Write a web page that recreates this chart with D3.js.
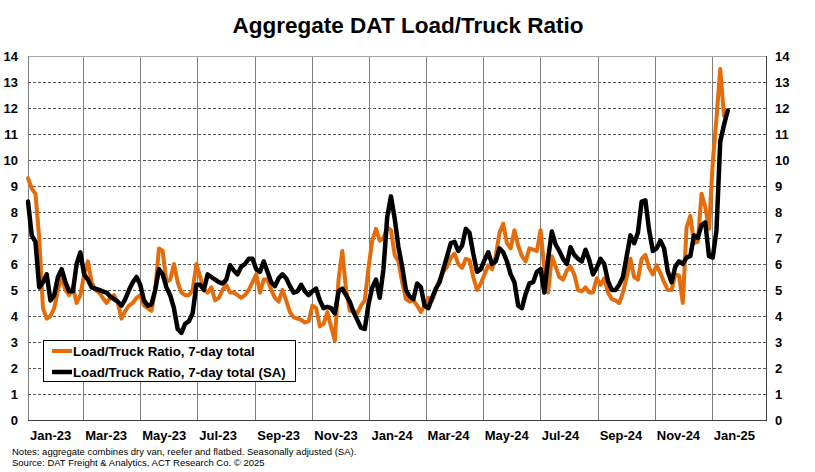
<!DOCTYPE html>
<html>
<head>
<meta charset="utf-8">
<script src="https://cdn.jsdelivr.net/npm/d3@7"></script>
<style>
  html, body { margin: 0; padding: 0; background: #fff; }
  svg { display: block; font-family: "Liberation Sans", Arial, sans-serif; }
</style>
</head>
<body>
<svg id="chart" width="815" height="472"></svg>
<script>
// ---------------- DATA ----------------
const title = "Aggregate DAT Load/Truck Ratio";
const startDate = "2023-01-01";   // first observation
const stepDays = 4;               // observations are every 4 days
const xTickDates = ["2023-01-01","2023-03-01","2023-05-01","2023-07-01","2023-09-01","2023-11-01",
                    "2024-01-01","2024-03-01","2024-05-01","2024-07-01","2024-09-01","2024-11-01","2025-01-01"];
const xTickLabels = ["Jan-23","Mar-23","May-23","Jul-23","Sep-23","Nov-23",
                     "Jan-24","Mar-24","May-24","Jul-24","Sep-24","Nov-24","Jan-25"];
const yTicks = [0,1,2,3,4,5,6,7,8,9,10,11,12,13,14];
const seriesNames = ["Load/Truck Ratio, 7-day total", "Load/Truck Ratio, 7-day total (SA)"];

// Load/Truck Ratio, 7-day total
const ratio = [
  9.3, 8.9, 8.7, 7.0, 4.3, 3.9, 4.0, 4.3, 5.0, 5.5, 5.0, 4.8, 5.1, 4.5, 4.8, 5.6, 6.1, 5.3, 5.0, 4.9,
  4.7, 4.5, 4.7, 4.8, 4.5, 3.9, 4.2, 4.4, 4.5, 4.7, 4.8, 4.4, 4.3, 4.2, 5.0, 6.6, 6.5, 5.3, 5.4, 6.0,
  5.3, 4.9, 4.8, 4.8, 5.0, 6.0, 5.5, 5.0, 4.9, 5.1, 4.6, 4.7, 5.0, 5.2, 4.9, 4.9, 4.8, 4.7, 4.8, 5.0,
  5.3, 5.6, 4.9, 5.4, 5.4, 5.0, 4.7,
  4.55, 5.0, 4.6, 4.15, 3.95, 3.9, 3.85, 3.75, 3.8, 4.4, 4.3, 3.6, 3.7, 4.15, 3.6, 3.05, 5.4, 6.5, 5.0, 4.2,
  4.2, 4.1, 4.4, 4.6, 5.85, 6.9, 7.35, 6.9, 7.0, 7.4, 7.3, 6.35, 6.1, 5.3, 4.65, 4.55, 4.6, 4.4, 4.15, 4.4,
  4.7, 4.6, 5.0, 5.4, 5.7, 5.9, 6.25, 6.4, 6.0, 5.85, 6.2, 6.15, 5.5, 5.0, 5.25, 5.6, 5.95, 5.8, 6.3, 7.2,
  7.55, 6.8, 6.6, 7.3, 6.7,
  6.3, 6.1, 6.6, 6.55, 6.5, 7.3, 5.8, 4.9, 6.3, 5.9, 5.5, 5.4, 5.75, 5.9, 5.6, 5.0, 4.95, 5.1, 4.9, 4.9,
  5.45, 5.2, 5.45, 4.9, 4.65, 4.6, 4.5, 4.9, 5.5, 6.2, 5.5, 5.4, 6.2, 6.35, 5.85, 5.6, 5.95, 5.65, 5.3, 5.0,
  5.0, 5.6, 5.55, 4.5, 7.4, 7.85, 6.8, 6.85, 8.7, 8.2, 7.35, 9.9, 11.6, 13.5, 11.7
];

// Load/Truck Ratio, 7-day total (SA)
const ratioSA = [
  8.4, 7.1, 6.85, 5.1, 5.3, 5.6, 4.6, 4.8, 5.5, 5.8, 5.3, 4.95, 4.95, 6.0, 6.45, 5.6, 5.4, 5.1, 5.05, 5.0,
  4.95, 4.9, 4.75, 4.65, 4.55, 4.4, 4.65, 5.0, 5.3, 5.5, 5.2, 4.6, 4.4, 4.45, 5.0, 5.8, 5.6, 5.1, 4.8, 4.3,
  3.5, 3.35, 3.7, 3.8, 4.1, 5.2, 5.2, 5.0, 5.6, 5.5, 5.4, 5.3, 5.25, 5.4, 5.95, 5.75, 5.6, 5.9, 6.0, 6.2,
  6.2, 5.8, 5.7, 6.1, 5.7, 5.3, 5.15,
  5.45, 5.6, 5.45, 5.15, 4.9, 4.95, 5.2, 4.95, 4.8, 4.95, 5.05, 4.6, 4.3, 4.35, 4.3, 4.1, 4.95, 5.05, 4.8, 4.55,
  4.15, 3.85, 3.55, 3.5, 4.45, 5.1, 5.4, 4.7, 5.8, 7.8, 8.6, 7.75, 6.65, 5.9, 5.0, 4.75, 4.65, 5.25, 5.1, 4.4,
  4.3, 4.7, 5.05, 5.3, 5.8, 6.3, 6.8, 6.85, 6.5, 6.7, 7.35, 7.2, 6.4, 5.7, 5.8, 6.15, 6.45, 6.0, 6.1, 6.6,
  6.45, 6.1, 5.6, 5.3, 4.4,
  4.3, 4.85, 5.25, 5.3, 5.7, 5.8, 4.9, 6.2, 7.25, 6.75, 6.5, 6.2, 6.0, 6.65, 6.35, 6.2, 6.1, 6.55, 6.15, 5.6,
  5.85, 6.2, 6.0, 5.35, 5.0, 5.0, 5.2, 5.5, 6.3, 7.1, 6.8, 7.2, 8.4, 8.45, 7.3, 6.5, 6.6, 6.9, 6.6, 5.7,
  5.3, 5.9, 6.1, 6.0, 6.25, 6.3, 7.1, 7.0, 7.5, 7.6, 6.3, 6.25, 7.3, 10.7, 11.35, 11.9
];

const notes = [
  "Notes: aggregate combines dry van, reefer and flatbed. Seasonally adjusted (SA).",
  "Source: DAT Freight & Analytics, ACT Research Co. \u00A9 2025"
];

// ---------------- CHART ----------------
const W = 815, H = 472;
const m = { left: 28, right: 767, top: 56, bottom: 420 };
const colors = { ratio: "#E46C0A", sa: "#000000" };
const parse = d3.timeParse("%Y-%m-%d");
const t0 = parse(startDate);
const dateAt = i => d3.timeDay.offset(t0, i * stepDays);

const svg = d3.select("#chart");

const x = d3.scaleTime()
  .domain([parse("2023-01-01"), parse("2025-03-01")])
  .range([m.left, m.right]);
const y = d3.scaleLinear().domain([0, 14]).range([m.bottom, m.top]);

// title
svg.append("text")
  .attr("x", 408).attr("y", 33)
  .attr("text-anchor", "middle")
  .attr("font-size", 22.5).attr("font-weight", "bold").attr("fill", "#000")
  .text(title);

// horizontal dashed grid
svg.append("g").selectAll("line")
  .data(yTicks.filter(v => v > 0 && v < 14))
  .join("line")
  .attr("x1", m.left).attr("x2", m.right)
  .attr("y1", d => Math.round(y(d)) + 0.5).attr("y2", d => Math.round(y(d)) + 0.5)
  .attr("stroke", "#555").attr("stroke-width", 1).attr("stroke-dasharray", "3,2");

// vertical grid lines at x ticks
const tickDates = xTickDates.map(parse);
svg.append("g").selectAll("line")
  .data(tickDates.slice(1))
  .join("line")
  .attr("x1", d => Math.round(x(d)) + 0.5).attr("x2", d => Math.round(x(d)) + 0.5)
  .attr("y1", m.top).attr("y2", m.bottom)
  .attr("stroke", "#7f7f7f").attr("stroke-width", 1);

// plot border
svg.append("line").attr("x1", m.left).attr("x2", m.right).attr("y1", m.top + 0.5).attr("y2", m.top + 0.5)
  .attr("stroke", "#a6a6a6");
svg.append("line").attr("x1", m.left + 0.5).attr("x2", m.left + 0.5).attr("y1", m.top).attr("y2", m.bottom)
  .attr("stroke", "#808080");
svg.append("line").attr("x1", m.right - 0.5).attr("x2", m.right - 0.5).attr("y1", m.top).attr("y2", m.bottom + 1)
  .attr("stroke", "#404040");
svg.append("line").attr("x1", m.left).attr("x2", m.right).attr("y1", m.bottom + 0.5).attr("y2", m.bottom + 0.5)
  .attr("stroke", "#404040");

// y axes
const yLeft = svg.append("g").attr("transform", `translate(${m.left - 10},0)`)
  .call(d3.axisLeft(y).tickValues(yTicks).tickSize(0).tickPadding(0));
const yRight = svg.append("g").attr("transform", `translate(${m.right + 8},0)`)
  .call(d3.axisRight(y).tickValues(yTicks).tickSize(0).tickPadding(0));
[yLeft, yRight].forEach(g => {
  g.select(".domain").remove();
  g.selectAll("text").attr("font-size", 13).attr("font-weight", "bold")
    .attr("font-family", "'Liberation Sans', Arial, sans-serif").attr("fill", "#000");
});

// x axis (labels start at each tick)
const xAxis = svg.append("g").attr("transform", `translate(0,${m.bottom})`)
  .call(d3.axisBottom(x).tickValues(tickDates).tickSize(0).tickPadding(0)
    .tickFormat((d, i) => xTickLabels[i]));
xAxis.select(".domain").remove();
xAxis.selectAll("text")
  .attr("text-anchor", "start").attr("dx", 1.5).attr("dy", 0).attr("y", 20)
  .attr("font-size", 13).attr("font-weight", "bold")
  .attr("font-family", "'Liberation Sans', Arial, sans-serif").attr("fill", "#000");

// lines
const line = d3.line()
  .x((d, i) => x(dateAt(i)))
  .y(d => y(d));

svg.append("path").datum(ratio)
  .attr("d", line).attr("fill", "none")
  .attr("stroke", colors.ratio).attr("stroke-width", 4)
  .attr("stroke-linejoin", "round").attr("stroke-linecap", "round");
svg.append("path").datum(ratioSA)
  .attr("d", line).attr("fill", "none")
  .attr("stroke", colors.sa).attr("stroke-width", 4.5)
  .attr("stroke-linejoin", "round").attr("stroke-linecap", "round");

// legend
const lg = svg.append("g");
lg.append("rect").attr("x", 43.5).attr("y", 340.5).attr("width", 252).attr("height", 41)
  .attr("fill", "#fff").attr("stroke", "#000").attr("stroke-width", 1);
const legendItems = [
  { name: seriesNames[0], color: colors.ratio, w: 4 },
  { name: seriesNames[1], color: colors.sa, w: 4.5 }
];
legendItems.forEach((d, i) => {
  const cy = 351 + i * 21;
  lg.append("line").attr("x1", 52).attr("x2", 72).attr("y1", cy).attr("y2", cy)
    .attr("stroke", d.color).attr("stroke-width", d.w);
  lg.append("text").attr("x", 73).attr("y", cy + 5)
    .attr("font-size", 13.3).attr("font-weight", "bold").attr("fill", "#000")
    .text(d.name);
});

// notes
svg.append("g").selectAll("text").data(notes).join("text")
  .attr("x", 12).attr("y", (d, i) => 455 + i * 11)
  .attr("font-size", 9.5).attr("fill", "#000")
  .text(d => d);
</script>
</body>
</html>
